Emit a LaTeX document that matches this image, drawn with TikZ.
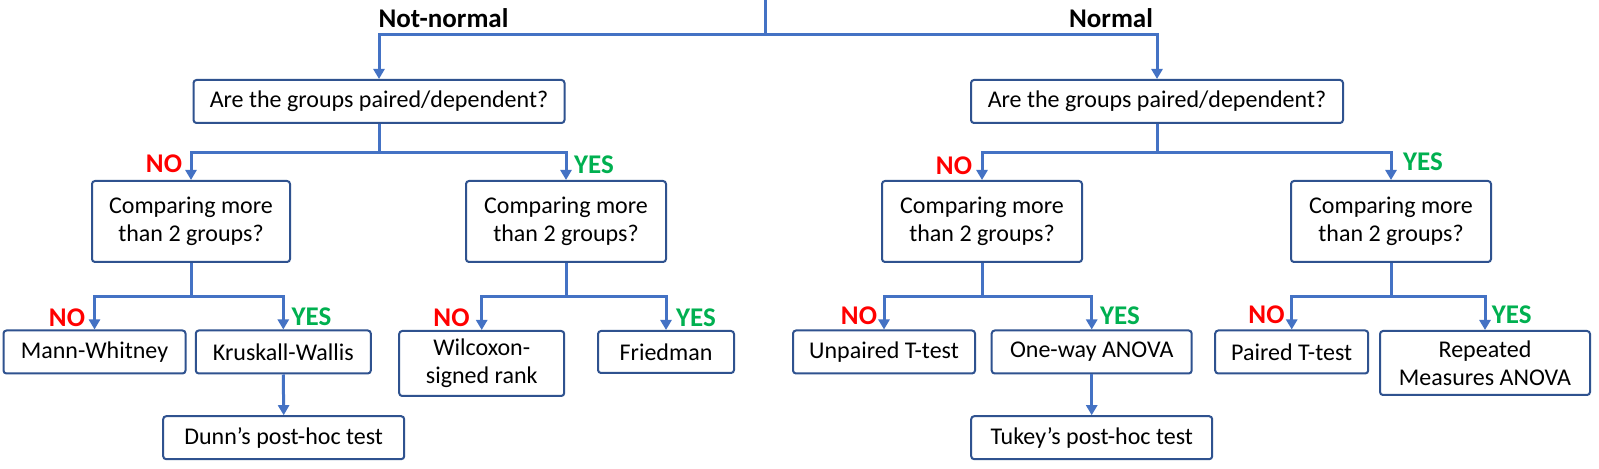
\documentclass[tikz,border=0pt]{standalone}
\usepackage{fontspec}
\setmainfont{Carlito}
\usetikzlibrary{arrows.meta}
\definecolor{connblue}{HTML}{4472C4}
\definecolor{bordblue}{HTML}{2F528F}
\definecolor{nored}{HTML}{FF0000}
\definecolor{yesgreen}{HTML}{00B050}
\begin{document}
\begin{tikzpicture}[x=0.5pt,y=-0.5pt,
  box/.style={draw=bordblue, line width=1pt, rounded corners=1.5pt, fill=white,
    align=center, inner sep=0pt, font=\fontsize{12}{14}\selectfont},
  link/.style={draw=connblue, line width=1.5pt},
  arr/.style={link, -{Triangle[width=5.5pt,length=5pt]}},
  lab/.style={inner sep=0pt, font=\bfseries\fontsize{13.5}{16}\selectfont},
  nolab/.style={lab, text=nored},
  yeslab/.style={lab, text=yesgreen}]
\useasboundingbox (0,0) rectangle (1599,469);
\fill[white] (0,0) rectangle (1599,469);

% level 1
\coordinate (top) at (765,0);
\node[box, minimum width=185.5pt, minimum height=21.5pt] (qL) at (379,101.5) {Are the groups paired/dependent?};
\node[box, minimum width=186pt, minimum height=21.5pt] (qR) at (1157,101.5) {Are the groups paired/dependent?};

% level 2
\node[box, minimum width=99pt, minimum height=40.5pt] (cLL) at (191,221.5) {Comparing more\\than 2 groups?};
\node[box, minimum width=100pt, minimum height=40.5pt] (cLR) at (566,221.5) {Comparing more\\than 2 groups?};
\node[box, minimum width=100pt, minimum height=40.5pt] (cRL) at (982,221.5) {Comparing more\\than 2 groups?};
\node[box, minimum width=100pt, minimum height=40.5pt] (cRR) at (1391,221.5) {Comparing more\\than 2 groups?};

% level 3
\node[box, minimum width=91pt, minimum height=21.5pt] (mw) at (94.5,352) {Mann-Whitney};
\node[box, minimum width=87.5pt, minimum height=21.5pt] (kw) at (283.3,352) {Kruskall-Wallis};
\node[box, minimum width=120.5pt, minimum height=21.5pt] (dunn) at (283.7,437.7) {Dunn’s post-hoc test};
\node[box, minimum width=82.5pt, minimum height=32.5pt] (wil) at (481.7,363.5) {Wilcoxon-\\signed rank};
\node[box, minimum width=68pt, minimum height=21pt] (fri) at (666,352) {Friedman};
\node[box, minimum width=91pt, minimum height=21.5pt] (unp) at (884,352) {Unpaired T-test};
\node[box, minimum width=100pt, minimum height=21.5pt] (owa) at (1091.7,352) {One-way ANOVA};
\node[box, minimum width=120.5pt, minimum height=21.5pt] (tuk) at (1091.7,437.7) {Tukey’s post-hoc test};
\node[box, minimum width=76.5pt, minimum height=21.5pt] (pt) at (1291.7,352) {Paired T-test};
\node[box, minimum width=105pt, minimum height=32pt] (rm) at (1485,363) {Repeated\\Measures ANOVA};

% connectors
\draw[link] (top) -- ++(0,35) coordinate (j0);
\draw[arr] (j0) -| (qL.north);
\draw[arr] (j0) -| (qR.north);

\draw[link] (qL.south) -- ++(0,29) coordinate (jL);
\draw[arr] (jL) -| (cLL.north);
\draw[arr] (jL) -| (cLR.north);
\draw[link] (qR.south) -- ++(0,29) coordinate (jR);
\draw[arr] (jR) -| (cRL.north);
\draw[arr] (jR) -| (cRR.north);

\draw[link] (cLL.south) -- ++(0,33.5) coordinate (jLL);
\draw[arr] (jLL) -| (mw.north);
\draw[arr] (jLL) -| (kw.north);
\draw[link] (cLR.south) -- ++(0,33.5) coordinate (jLR);
\draw[arr] (jLR) -| (wil.north);
\draw[arr] (jLR) -| (fri.north);
\draw[link] (cRL.south) -- ++(0,33.5) coordinate (jRL);
\draw[arr] (jRL) -| (unp.north);
\draw[arr] (jRL) -| (owa.north);
\draw[link] (cRR.south) -- ++(0,33.5) coordinate (jRR);
\draw[arr] (jRR) -| (pt.north);
\draw[arr] (jRR) -| (rm.north);

\draw[arr] (kw.south) -- (dunn.north);
\draw[arr] (owa.south) -- (tuk.north);

% labels
\node[lab] (lnn) at (443.5,18) {Not-normal};
\node[lab] (ln) at (1111,18) {Normal};
\node[nolab] (n1) at (164,164) {NO};
\node[yeslab] (y1) at (594,165) {YES};
\node[nolab] (n2) at (954,166) {NO};
\node[yeslab] (y2) at (1423,162) {YES};
\node[nolab] (n3) at (67,317.5) {NO};
\node[yeslab] (y3) at (311.5,317) {YES};
\node[nolab] (n4) at (451.5,318) {NO};
\node[yeslab] (y4) at (696,318) {YES};
\node[nolab] (n5) at (859,316) {NO};
\node[yeslab] (y5) at (1120,316) {YES};
\node[nolab] (n6) at (1266.5,315) {NO};
\node[yeslab] (y6) at (1511.7,315) {YES};
\end{tikzpicture}
\end{document}
